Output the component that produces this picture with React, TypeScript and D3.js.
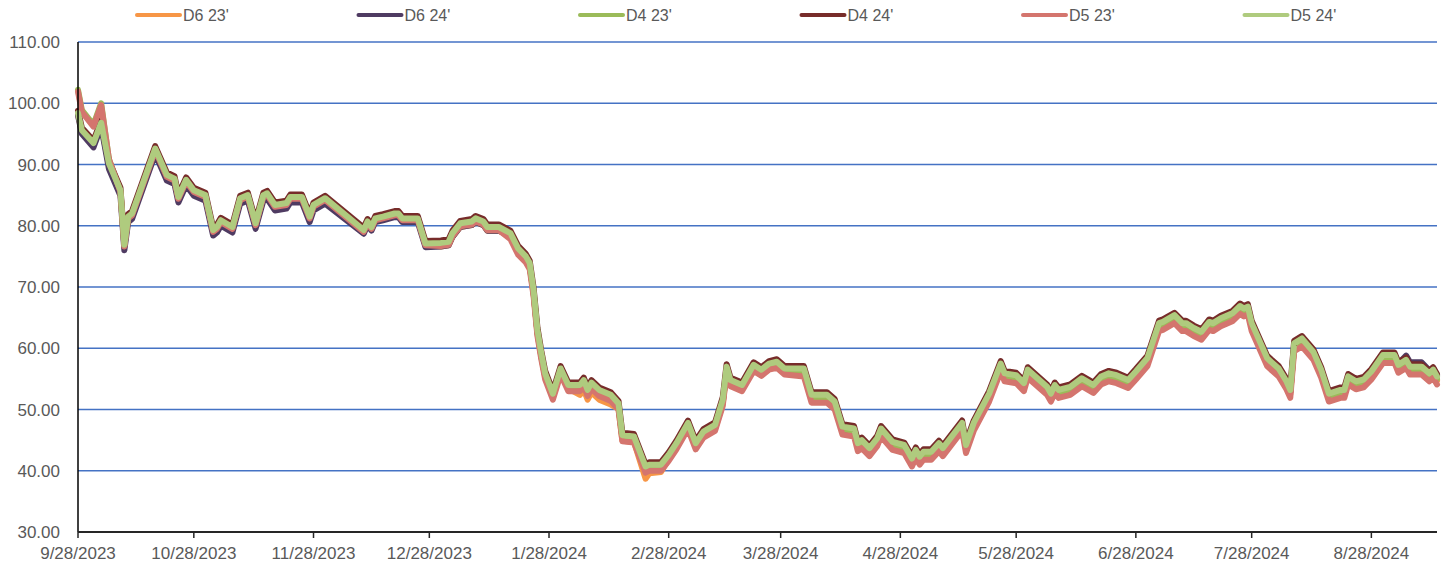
import React, { useEffect, useRef } from 'react'
import * as d3 from 'd3'

// trading dates (x categories)
const dates = [
  '2023-09-28','2023-09-29','2023-10-02','2023-10-04','2023-10-06','2023-10-09','2023-10-10','2023-10-11','2023-10-12','2023-10-18',
  '2023-10-21','2023-10-23','2023-10-24','2023-10-26','2023-10-28','2023-10-31','2023-11-02','2023-11-03','2023-11-04','2023-11-07',
  '2023-11-09','2023-11-11','2023-11-13','2023-11-15','2023-11-16','2023-11-18','2023-11-21','2023-11-22','2023-11-25','2023-11-27',
  '2023-11-28','2023-12-01','2023-12-11','2023-12-12','2023-12-13','2023-12-14','2023-12-16','2023-12-19','2023-12-20','2023-12-21',
  '2023-12-25','2023-12-27','2023-12-31','2024-01-02','2024-01-03','2024-01-05','2024-01-08','2024-01-09','2024-01-11','2024-01-12',
  '2024-01-15','2024-01-18','2024-01-20','2024-01-22','2024-01-23','2024-01-24','2024-01-25','2024-01-26','2024-01-27','2024-01-29',
  '2024-01-31','2024-02-02','2024-02-05','2024-02-06','2024-02-07','2024-02-08','2024-02-10','2024-02-13','2024-02-15','2024-02-16',
  '2024-02-19','2024-02-22','2024-02-23','2024-02-26','2024-02-28','2024-03-01','2024-03-04','2024-03-06','2024-03-08','2024-03-11',
  '2024-03-13','2024-03-14','2024-03-15','2024-03-18','2024-03-21','2024-03-23','2024-03-25','2024-03-27','2024-03-29','2024-04-03',
  '2024-04-05','2024-04-09','2024-04-11','2024-04-13','2024-04-16','2024-04-17','2024-04-18','2024-04-20','2024-04-22','2024-04-23',
  '2024-04-26','2024-04-29','2024-05-01','2024-05-02','2024-05-03','2024-05-04','2024-05-06','2024-05-08','2024-05-09','2024-05-14',
  '2024-05-15','2024-05-17','2024-05-21','2024-05-24','2024-05-25','2024-05-28','2024-05-30','2024-05-31','2024-06-05','2024-06-06',
  '2024-06-07','2024-06-08','2024-06-11','2024-06-14','2024-06-17','2024-06-19','2024-06-21','2024-06-23','2024-06-26','2024-06-28',
  '2024-07-01','2024-07-02','2024-07-04','2024-07-05','2024-07-08','2024-07-10','2024-07-11','2024-07-13','2024-07-15','2024-07-17',
  '2024-07-18','2024-07-20','2024-07-23','2024-07-25','2024-07-26','2024-07-27','2024-07-28','2024-08-01','2024-08-02','2024-08-04',
  '2024-08-06','2024-08-07','2024-08-08','2024-08-10','2024-08-13','2024-08-15','2024-08-17','2024-08-20','2024-08-21','2024-08-22',
  '2024-08-24','2024-08-26','2024-08-28','2024-08-31','2024-09-03','2024-09-04','2024-09-06','2024-09-07','2024-09-10','2024-09-12',
  '2024-09-13','2024-09-14'
]

const d6_23 = [
  98.2,95.3,93.2,96.5,89.9,85.5,76.6,81.2,81.7,92.3,
  88.0,87.4,84.4,87.2,85.5,84.7,79.0,79.5,80.6,79.5,
  84.2,84.7,80.1,84.7,85.0,83.1,83.4,84.4,84.4,81.2,
  83.1,84.2,79.0,80.4,79.5,80.9,81.2,81.7,81.7,80.9,
  80.9,76.8,76.6,76.8,78.2,79.8,80.1,80.6,80.1,79.2,
  79.2,78.2,75.7,74.4,73.3,68.9,62.4,58.6,55.3,52.0,
  56.1,53.4,52.4,53.2,51.6,52.8,51.6,50.8,50.1,44.9,
  44.7,38.7,39.6,39.8,41.9,43.8,47.1,43.8,45.7,46.8,
  50.9,56.3,54.1,53.3,56.6,55.8,56.8,57.1,56.0,56.0,
  51.7,51.7,50.6,46.5,46.2,43.8,44.3,43.0,44.6,46.2,
  44.0,43.5,41.3,42.7,41.6,42.4,42.4,43.8,43.0,47.1,
  43.5,47.1,51.9,56.8,55.2,54.9,53.6,55.8,53.0,51.9,
  53.3,52.5,53.0,54.4,53.3,54.7,55.2,54.9,54.1,55.5,
  57.7,59.6,63.4,63.6,64.7,63.4,63.4,62.6,62.0,63.6,
  63.4,64.2,65.0,66.2,65.8,66.1,63.4,57.7,57.1,56.0,
  53.9,52.5,60.1,60.9,58.7,55.8,51.9,52.5,52.5,54.7,
  53.9,54.2,55.5,58.2,58.2,56.6,57.4,56.3,56.3,55.2,
  55.8,54.7
]

const d6_24 = [
  98.0,95.0,92.8,96.2,89.3,84.9,76.0,80.6,81.1,91.7,
  87.4,86.8,83.8,86.6,84.9,84.1,78.4,78.9,80.0,78.9,
  83.6,84.1,79.5,84.1,84.4,82.5,82.8,83.8,83.8,80.6,
  82.5,83.6,78.7,80.1,79.2,80.6,80.9,81.4,81.4,80.6,
  80.6,76.5,76.6,76.8,78.2,79.8,80.1,80.6,80.1,79.2,
  79.2,78.4,75.9,74.6,73.5,69.1,62.6,58.8,55.5,52.2,
  56.3,53.6,53.6,54.4,52.8,54.0,52.8,52.0,50.6,45.4,
  45.2,40.3,40.6,40.6,42.2,44.1,47.4,44.1,46.0,47.1,
  51.2,56.6,54.4,53.6,56.9,56.1,57.1,57.4,56.3,56.3,
  52.0,52.0,50.9,46.8,46.5,44.1,44.6,43.3,44.9,46.5,
  44.3,43.8,41.6,43.0,41.9,42.7,42.7,44.1,43.3,47.4,
  43.8,47.4,52.2,57.1,55.5,55.2,53.9,56.1,53.3,52.2,
  53.6,52.8,53.3,54.7,53.6,55.0,55.5,55.2,54.4,55.8,
  58.0,59.9,63.7,63.9,65.0,63.7,63.7,62.9,62.3,63.9,
  63.7,64.5,65.3,66.5,66.1,66.4,63.7,58.0,57.4,56.3,
  54.2,52.8,60.4,61.2,59.0,56.1,52.2,52.8,52.8,55.0,
  54.2,54.5,55.8,58.9,59.0,57.5,58.8,57.7,57.7,56.4,
  56.8,55.5
]

const d4_23 = [
  102.2,98.9,96.5,100.0,90.9,85.7,76.8,81.4,81.9,92.5,
  88.2,87.6,84.6,87.4,85.7,84.9,79.2,79.7,80.8,79.7,
  84.4,84.9,80.3,84.9,85.2,83.3,83.6,84.6,84.6,81.4,
  83.3,84.4,79.2,80.6,79.7,81.1,81.4,81.9,81.9,81.1,
  81.1,77.0,76.8,77.0,78.4,80.0,80.3,80.8,80.3,79.4,
  79.4,78.4,75.9,74.6,73.5,69.1,62.6,58.8,55.5,52.2,
  56.3,53.6,53.6,54.4,52.8,54.0,52.8,52.0,50.6,45.4,
  45.2,40.3,40.6,40.6,42.2,44.1,47.4,44.1,46.0,47.1,
  51.2,56.6,54.4,53.6,56.9,56.1,57.1,57.4,56.3,56.3,
  52.0,52.0,50.9,46.8,46.5,44.1,44.6,43.3,44.9,46.5,
  44.3,43.8,41.6,43.0,41.9,42.7,42.7,44.1,43.3,47.4,
  43.8,47.4,52.2,57.1,55.5,55.2,53.9,56.1,53.3,52.2,
  53.6,52.8,53.3,54.7,53.6,55.0,55.5,55.2,54.4,55.8,
  58.0,59.9,63.7,63.9,65.0,63.7,63.7,62.9,62.3,63.9,
  63.7,64.5,65.3,66.5,66.1,66.4,63.7,58.0,57.4,56.3,
  54.2,52.8,60.4,61.2,59.0,56.1,52.2,52.8,52.8,55.0,
  54.2,54.5,55.8,58.5,58.5,56.9,57.7,56.6,56.6,55.5,
  56.1,55.0
]

const d4_24 = [
  98.8,96.0,93.9,97.2,90.6,86.2,77.3,81.9,82.4,93.0,
  88.7,88.1,85.1,87.9,86.2,85.4,79.7,80.2,81.3,80.2,
  84.9,85.4,80.8,85.4,85.7,83.8,84.1,85.1,85.1,81.9,
  83.8,84.9,79.7,81.1,80.2,81.6,81.9,82.4,82.4,81.6,
  81.6,77.5,77.6,77.8,79.2,80.8,81.1,81.6,81.1,80.2,
  80.2,79.2,76.7,75.4,74.3,69.9,63.4,59.6,56.3,53.0,
  57.1,54.4,54.4,55.2,53.6,54.8,53.6,52.8,51.4,46.2,
  46.0,41.1,41.4,41.4,43.0,44.9,48.2,44.9,46.8,47.9,
  52.0,57.4,55.2,54.4,57.7,56.9,57.9,58.2,57.1,57.1,
  52.8,52.8,51.7,47.6,47.3,44.9,45.4,44.1,45.7,47.3,
  45.1,44.6,42.4,43.8,42.7,43.5,43.5,44.9,44.1,48.2,
  44.6,48.2,53.0,57.9,56.3,56.0,54.7,56.9,54.1,53.0,
  54.4,53.6,54.1,55.5,54.4,55.8,56.3,56.0,55.2,56.6,
  58.8,60.7,64.5,64.7,65.8,64.5,64.5,63.7,63.1,64.7,
  64.5,65.3,66.1,67.3,66.9,67.2,64.5,58.8,58.2,57.1,
  55.0,53.6,61.2,62.0,59.8,56.9,53.0,53.6,53.6,55.8,
  55.0,55.3,56.6,59.3,59.3,57.7,58.5,57.4,57.4,56.3,
  56.9,55.8
]

const d5_23 = [
  101.9,98.6,96.2,99.7,90.9,85.5,76.6,81.2,81.7,92.3,
  88.0,87.4,84.4,87.2,85.5,84.7,79.0,79.5,80.6,79.5,
  84.2,84.7,80.1,84.7,85.0,83.1,83.4,84.4,84.4,81.2,
  83.1,84.2,79.0,80.4,79.5,80.9,81.2,81.7,81.7,80.9,
  80.9,76.8,76.7,76.9,78.3,79.9,80.2,80.7,80.2,79.3,
  79.3,77.8,75.3,74.0,72.9,68.5,62.0,58.2,54.9,51.6,
  55.7,53.0,53.0,53.8,52.2,53.4,52.2,51.4,50.0,44.8,
  44.6,39.7,40.0,40.0,41.6,43.5,46.8,43.5,45.4,46.5,
  50.6,56.0,53.8,53.0,56.3,55.5,56.5,56.8,55.7,55.4,
  51.1,51.1,50.0,45.9,45.6,43.2,43.7,42.4,44.0,45.6,
  43.4,42.9,40.7,42.1,41.0,41.8,41.8,43.2,42.4,46.5,
  42.9,46.5,51.3,56.2,54.6,54.3,53.0,55.2,52.4,51.3,
  52.7,51.9,52.4,53.8,52.7,54.1,54.6,54.3,53.5,54.9,
  57.1,59.0,62.8,63.0,64.1,62.8,62.8,62.0,61.4,63.0,
  62.8,63.6,64.4,65.6,65.2,65.5,62.8,57.1,56.5,55.4,
  53.3,51.9,59.5,60.3,58.1,55.2,51.3,51.9,51.9,54.1,
  53.3,53.6,54.9,57.6,57.6,56.0,56.8,55.7,55.7,54.6,
  55.2,54.1
]

const d5_24 = [
  98.4,95.6,93.5,96.8,90.2,85.8,76.9,81.5,82.0,92.6,
  88.3,87.7,84.7,87.5,85.8,85.0,79.3,79.8,80.9,79.8,
  84.5,85.0,80.4,85.0,85.3,83.4,83.7,84.7,84.7,81.5,
  83.4,84.5,79.3,80.7,79.8,81.2,81.5,82.0,82.0,81.2,
  81.2,77.1,77.2,77.4,78.8,80.4,80.7,81.2,80.7,79.8,
  79.8,78.8,76.3,75.0,73.9,69.5,63.0,59.2,55.9,52.6,
  56.7,54.0,54.0,54.8,53.2,54.4,53.2,52.4,51.0,45.8,
  45.6,40.7,41.0,41.0,42.6,44.5,47.8,44.5,46.4,47.5,
  51.6,57.0,54.8,54.0,57.3,56.5,57.5,57.8,56.7,56.7,
  52.4,52.4,51.3,47.2,46.9,44.5,45.0,43.7,45.3,46.9,
  44.7,44.2,42.0,43.4,42.3,43.1,43.1,44.5,43.7,47.8,
  44.2,47.8,52.6,57.5,55.9,55.6,54.3,56.5,53.7,52.6,
  54.0,53.2,53.7,55.1,54.0,55.4,55.9,55.6,54.8,56.2,
  58.4,60.3,64.1,64.3,65.4,64.1,64.1,63.3,62.7,64.3,
  64.1,64.9,65.7,66.9,66.5,66.8,64.1,58.4,57.8,56.7,
  54.6,53.2,60.8,61.6,59.4,56.5,52.6,53.2,53.2,55.4,
  54.6,54.9,56.2,58.9,58.9,57.3,58.1,57.0,57.0,55.9,
  56.5,55.4
]

const seriesNames = ["D6 23'", "D6 24'", "D4 23'", "D4 24'", "D5 23'", "D5 24'"]
const seriesValues = [d6_23, d6_24, d4_23, d4_24, d5_23, d5_24]
const seriesColors = ['#F79646', '#4F3B62', '#9BBB59', '#772C2A', '#D4756E', '#AFCB7E']

const yTicks = [30, 40, 50, 60, 70, 80, 90, 100, 110]
const xTickLabels = ['9/28/2023', '10/28/2023', '11/28/2023', '12/28/2023', '1/28/2024', '2/28/2024',
  '3/28/2024', '4/28/2024', '5/28/2024', '6/28/2024', '7/28/2024', '8/28/2024']
const xDomain = ['2023-09-28', '2024-09-14']

const App = () => {
  const ref = useRef<SVGSVGElement>(null)
  const W = 1445, H = 569
  const m = { left: 78, right: 8, top: 42, bottom: 37 }

  useEffect(() => {
    const svg = d3.select(ref.current)
    svg.selectAll('*').remove()
    const parse = d3.utcParse('%Y-%m-%d')
    const parseTick = d3.utcParse('%m/%d/%Y')
    const font = '"Liberation Sans", Arial, sans-serif'

    const x = d3.scaleUtc()
      .domain(xDomain.map(d => parse(d) as Date))
      .range([m.left, W - m.right])
    const y = d3.scaleLinear().domain([30, 110]).range([H - m.bottom, m.top])

    // gridlines
    svg.append('g').selectAll('line')
      .data(yTicks.filter(t => t > 30))
      .enter().append('line')
      .attr('x1', m.left).attr('x2', W - m.right)
      .attr('y1', d => y(d)).attr('y2', d => y(d))
      .attr('stroke', '#4472C4').attr('stroke-width', 1.3)

    // y labels
    svg.append('g').selectAll('text')
      .data(yTicks)
      .enter().append('text')
      .attr('x', 60).attr('y', d => y(d)).attr('dy', '0.36em')
      .attr('text-anchor', 'end')
      .attr('font-family', font).attr('font-size', 17).attr('fill', '#595959')
      .text(d => d3.format('.2f')(d))

    // lines
    const line = d3.line<number>()
      .x((d, i) => x(parse(dates[i]) as Date))
      .y(d => y(d))
      .curve(d3.curveLinear)
    svg.append('g').selectAll('path')
      .data(seriesValues)
      .enter().append('path')
      .attr('d', d => line(d))
      .attr('fill', 'none')
      .attr('stroke', (d, i) => seriesColors[i])
      .attr('stroke-width', 6)
      .attr('stroke-linejoin', 'round')
      .attr('stroke-linecap', 'round')

    // axes
    svg.append('line')
      .attr('x1', m.left).attr('x2', m.left)
      .attr('y1', m.top).attr('y2', H - m.bottom)
      .attr('stroke', '#000').attr('stroke-width', 1.5)
    svg.append('line')
      .attr('x1', m.left).attr('x2', W - m.right)
      .attr('y1', H - m.bottom).attr('y2', H - m.bottom)
      .attr('stroke', '#262626').attr('stroke-width', 2)

    const xt = svg.append('g').selectAll('g')
      .data(xTickLabels)
      .enter().append('g')
      .attr('transform', d => 'translate(' + x(parseTick(d) as Date) + ',' + (H - m.bottom) + ')')
    xt.append('line').attr('y1', 0).attr('y2', 6).attr('stroke', '#262626').attr('stroke-width', 1.5)
    xt.append('text')
      .attr('y', 27).attr('text-anchor', 'middle')
      .attr('font-family', font).attr('font-size', 17).attr('fill', '#595959')
      .text(d => d)

    // legend
    const lg = svg.append('g').selectAll('g')
      .data(seriesNames)
      .enter().append('g')
      .attr('transform', (d, i) => 'translate(' + (137 + i * 221.5) + ',15)')
    lg.append('line')
      .attr('x1', 0).attr('x2', 43)
      .attr('stroke', (d, i) => seriesColors[i])
      .attr('stroke-width', 4).attr('stroke-linecap', 'round')
    lg.append('text')
      .attr('x', 46).attr('dy', '0.36em')
      .attr('font-family', font).attr('font-size', 16).attr('fill', '#595959')
      .text(d => d)
  }, [])

  return (
    <svg ref={ref} width={W} height={H} style={{ position: 'absolute', left: 0, top: 0, background: '#fff' }} />
  )
}

export default App
